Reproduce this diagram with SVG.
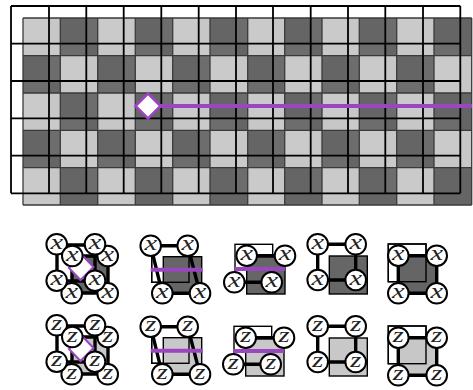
<svg xmlns="http://www.w3.org/2000/svg" width="473" height="390" viewBox="0 0 473 390">
<style>
.l{fill:#c7c7c7}.d{fill:#656565}
.bg{stroke:#3a3a3a;stroke-width:1.3;fill:none}
.ga{stroke:#000;stroke-width:1.8;fill:none}
.t{fill:none;stroke:#000;stroke-width:3.4}
.sq{fill:#fff;stroke:#000;stroke-width:1.4}
.o{fill:none;stroke:#000;stroke-width:1.4}
.sd{fill:#666;stroke:#000;stroke-width:1.4}
.sl{fill:#c8c8c8;stroke:#000;stroke-width:1.4}
.p{stroke:#9b45c0;stroke-width:4;fill:none}
.n{fill:#fff;stroke:#000;stroke-width:2}
text{font-family:"Liberation Serif",serif;font-style:italic;font-size:21px;text-anchor:middle;fill:#222}
</style>
<defs>
<pattern id="tint" patternUnits="userSpaceOnUse" x="11" y="6" width="74.850" height="74.900">
<rect width="37.500" height="37.500" fill="#fff" fill-opacity=".05"/>
<rect x="37.500" y="37.500" width="37.500" height="37.500" fill="#fff" fill-opacity=".05"/>
</pattern>
<g id="nx"><circle class="n" r="10.300"/><text y="4.500" transform="scale(1.35 1)">x</text></g>
<g id="nz"><circle class="n" r="10.300"/><text y="4.500" transform="scale(1.35 1)">z</text></g>
</defs>
<g id="lattice">
<path class="l" d="M23 18H60.300V55.700H23ZM97.700 18H135.300V55.700H97.700ZM172.700 18H210V55.700H172.700ZM247.700 18H284.700V55.700H247.700ZM322 18H359.300V55.700H322ZM396.700 18H434V55.700H396.700ZM60.300 55.700H97.700V93H60.300ZM135.300 55.700H172.700V93H135.300ZM210 55.700H247.700V93H210ZM284.700 55.700H322V93H284.700ZM359.300 55.700H396.700V93H359.300ZM434 55.700H471.700V93H434ZM23 93H60.300V130.300H23ZM97.700 93H135.300V130.300H97.700ZM172.700 93H210V130.300H172.700ZM247.700 93H284.700V130.300H247.700ZM322 93H359.300V130.300H322ZM396.700 93H434V130.300H396.700ZM60.300 130.300H97.700V167.700H60.300ZM135.300 130.300H172.700V167.700H135.300ZM210 130.300H247.700V167.700H210ZM284.700 130.300H322V167.700H284.700ZM359.300 130.300H396.700V167.700H359.300ZM434 130.300H471.700V167.700H434ZM23 167.700H60.300V205H23ZM97.700 167.700H135.300V205H97.700ZM172.700 167.700H210V205H172.700ZM247.700 167.700H284.700V205H247.700ZM322 167.700H359.300V205H322ZM396.700 167.700H434V205H396.700Z"/>
<path class="d" d="M60.300 18H97.700V55.700H60.300ZM135.300 18H172.700V55.700H135.300ZM210 18H247.700V55.700H210ZM284.700 18H322V55.700H284.700ZM359.300 18H396.700V55.700H359.300ZM434 18H471.700V55.700H434ZM23 55.700H60.300V93H23ZM97.700 55.700H135.300V93H97.700ZM172.700 55.700H210V93H172.700ZM247.700 55.700H284.700V93H247.700ZM322 55.700H359.300V93H322ZM396.700 55.700H434V93H396.700ZM60.300 93H97.700V130.300H60.300ZM135.300 93H172.700V130.300H135.300ZM210 93H247.700V130.300H210ZM284.700 93H322V130.300H284.700ZM359.300 93H396.700V130.300H359.300ZM434 93H471.700V130.300H434ZM23 130.300H60.300V167.700H23ZM97.700 130.300H135.300V167.700H97.700ZM172.700 130.300H210V167.700H172.700ZM247.700 130.300H284.700V167.700H247.700ZM322 130.300H359.300V167.700H322ZM396.700 130.300H434V167.700H396.700ZM60.300 167.700H97.700V205H60.300ZM135.300 167.700H172.700V205H135.300ZM210 167.700H247.700V205H210ZM284.700 167.700H322V205H284.700ZM359.300 167.700H396.700V205H359.300ZM434 167.700H471.700V205H434Z"/>
<rect x="11" y="6" width="449.300" height="187.300" fill="url(#tint)"/>
<path class="bg" d="M23 18H471.700M23 55.700H471.700M23 93H471.700M23 130.300H471.700M23 167.700H471.700M23 205H471.700M23 18V205M60.300 18V205M97.700 18V205M135.300 18V205M172.700 18V205M210 18V205M247.700 18V205M284.700 18V205M322 18V205M359.300 18V205M396.700 18V205M434 18V205M471.700 18V205"/>
<path class="ga" d="M11 6H460.300M11 43.700H460.300M11 81H460.300M11 118.300H460.300M11 155.700H460.300M11 193.300H460.300M11 6V193.300M49 6V193.300M86.300 6V193.300M123.700 6V193.300M161.300 6V193.300M198.700 6V193.300M236 6V193.300M273 6V193.300M310.700 6V193.300M348 6V193.300M385.300 6V193.300M423 6V193.300M460.300 6V193.300"/>
<path class="p" d="M148 106H472"/>
<path d="M148 93.500L160.500 106L148 118.500L135.500 106Z" fill="#fff" stroke="#9b45c0" stroke-width="2.500"/>
</g>
<g id="x-a">
<rect class="sd" x="72" y="256" width="36" height="37"/>
<path class="t" d="M57 245H95V281H57ZM72 256H108V293H72Z"/>
<path d="M82 255L93.500 267L80.500 280L69 268Z" fill="#fff" stroke="#9b45c0" stroke-width="2"/>
<use href="#nx" x="71.700" y="293.300"/><use href="#nx" x="107.700" y="293.300"/><use href="#nx" x="107.700" y="256"/><use href="#nx" x="95" y="244.300"/><use href="#nx" x="56.700" y="244.300"/><use href="#nx" x="72.300" y="256"/><use href="#nx" x="56.700" y="280.700"/><use href="#nx" x="95" y="280.700"/>
</g>
<g id="x-b">
<rect class="sq" x="151.700" y="245.700" width="37.300" height="36.600"/>
<rect class="sd" x="163.300" y="256.700" width="38.400" height="36.600"/>
<rect class="o" x="151.700" y="245.700" width="37.300" height="36.600"/>
<path class="t" d="M150.700 245.700H187.700L200 293.300H162.300Z"/>
<path class="p" d="M150.700 269.700H202.700"/>
<use href="#nx" x="150.700" y="245.700"/><use href="#nx" x="187.700" y="245.700"/><use href="#nx" x="162.300" y="293.300"/><use href="#nx" x="200" y="293.300"/>
</g>
<g id="x-c">
<rect class="sq" x="235" y="244.300" width="37.700" height="37.700"/>
<rect class="sd" x="246.700" y="256.700" width="38.300" height="37.300"/>
<path class="t" d="M246.700 255.700H285M234.300 282.300H271.700"/>
<path class="p" d="M234.300 269H285"/>
<use href="#nx" x="246.700" y="255.700"/><use href="#nx" x="285" y="255.700"/><use href="#nx" x="234.300" y="282.300"/><use href="#nx" x="271.700" y="282.300"/>
</g>
<g id="x-d">
<rect class="sd" x="329.300" y="256" width="38" height="38"/>
<path class="t" d="M317.700 244.300H355.700V280H317.700Z"/>
<use href="#nx" x="317.700" y="244.300"/><use href="#nx" x="355.700" y="244.300"/><use href="#nx" x="317.700" y="280"/><use href="#nx" x="355.700" y="280"/>
</g>
<g id="x-e">
<rect class="sq" x="388.300" y="244" width="37.700" height="37.700"/>
<rect x="398.300" y="255.700" width="38.400" height="37.600" class="d"/>
<rect class="o" x="388.300" y="244" width="37.700" height="37.700"/>
<path class="t" d="M398.300 255.700H436.700V293.300H398.300Z"/>
<use href="#nx" x="398.300" y="255.700"/><use href="#nx" x="436.700" y="255.700"/><use href="#nx" x="398.300" y="293.300"/><use href="#nx" x="436.700" y="293.300"/>
</g>
<g id="z-a" transform="translate(0 81)">
<rect class="sl" x="72" y="256" width="36" height="37"/>
<path class="t" d="M57 245H95V281H57ZM72 256H108V293H72Z"/>
<path d="M82 255L93.500 267L80.500 280L69 268Z" fill="#fff" stroke="#9b45c0" stroke-width="2"/>
<use href="#nz" x="71.700" y="293.300"/><use href="#nz" x="107.700" y="293.300"/><use href="#nz" x="107.700" y="256"/><use href="#nz" x="95" y="244.300"/><use href="#nz" x="56.700" y="244.300"/><use href="#nz" x="72.300" y="256"/><use href="#nz" x="56.700" y="280.700"/><use href="#nz" x="95" y="280.700"/>
</g>
<g id="z-b" transform="translate(0 81)">
<rect class="sq" x="151.700" y="245.700" width="37.300" height="36.600"/>
<rect class="sl" x="163.300" y="256.700" width="38.400" height="36.600"/>
<rect class="o" x="151.700" y="245.700" width="37.300" height="36.600"/>
<path class="t" d="M150.700 245.700H187.700L200 293.300H162.300Z"/>
<path class="p" d="M150.700 269.700H202.700"/>
<use href="#nz" x="150.700" y="245.700"/><use href="#nz" x="187.700" y="245.700"/><use href="#nz" x="162.300" y="293.300"/><use href="#nz" x="200" y="293.300"/>
</g>
<g id="z-c" transform="translate(-1 82)">
<rect class="sq" x="235" y="244.300" width="37.700" height="37.700"/>
<rect class="sl" x="246.700" y="256.700" width="38.300" height="37.300"/>
<path class="t" d="M246.700 255.700H285M234.300 282.300H271.700"/>
<path class="p" d="M234.300 269H285"/>
<use href="#nz" x="246.700" y="255.700"/><use href="#nz" x="285" y="255.700"/><use href="#nz" x="234.300" y="282.300"/><use href="#nz" x="271.700" y="282.300"/>
</g>
<g id="z-d" transform="translate(0 82)">
<rect class="sl" x="329.300" y="256" width="38" height="38"/>
<path class="t" d="M317.700 244.300H355.700V280H317.700Z"/>
<use href="#nz" x="317.700" y="244.300"/><use href="#nz" x="355.700" y="244.300"/><use href="#nz" x="317.700" y="280"/><use href="#nz" x="355.700" y="280"/>
</g>
<g id="z-e" transform="translate(0 82)">
<rect class="sq" x="388.300" y="244" width="37.700" height="37.700"/>
<rect x="398.300" y="255.700" width="38.400" height="37.600" class="l"/>
<rect class="o" x="388.300" y="244" width="37.700" height="37.700"/>
<path class="t" d="M398.300 255.700H436.700V293.300H398.300Z"/>
<use href="#nz" x="398.300" y="255.700"/><use href="#nz" x="436.700" y="255.700"/><use href="#nz" x="398.300" y="293.300"/><use href="#nz" x="436.700" y="293.300"/>
</g>
</svg>
